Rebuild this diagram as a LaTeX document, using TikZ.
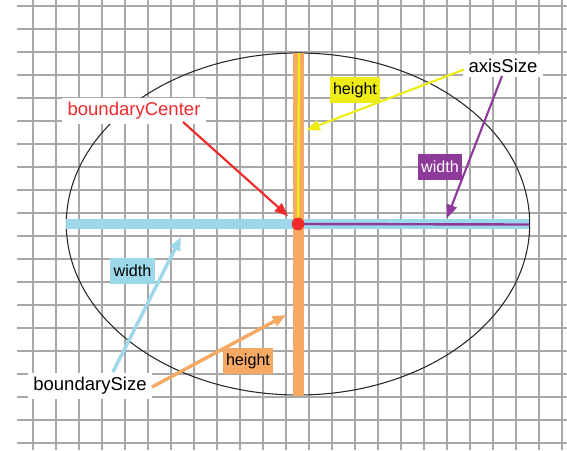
\documentclass[tikz,border=0pt]{standalone}
\usepackage{fontspec}
\setmainfont{Liberation Sans}
\usetikzlibrary{arrows.meta}
\definecolor{gridgray}{HTML}{A8A8A8}
\definecolor{sizeblue}{HTML}{9DD7EA}
\definecolor{sizeorange}{HTML}{F5A964}
\definecolor{axisyellow}{HTML}{EFEC14}
\definecolor{axispurple}{HTML}{8E3A9A}
\definecolor{centerred}{HTML}{EE2A2A}
\tikzset{
  gridln/.style  = {draw=gridgray,line width=1.1pt},
  lbl/.style     = {fill=white,inner xsep=4pt,inner ysep=3.5pt,
                     font=\fontsize{13.9}{16}\selectfont},
  keybox/.style  = {inner xsep=2.5pt,inner ysep=2pt,minimum height=19.5pt,
                     font=\fontsize{12.1}{14}\selectfont},
  ptr/.style     = {-{Triangle[length=10pt,width=8pt]},line width=2pt},
}

\begin{document}
\begin{tikzpicture}[x=0.75pt,y=-0.75pt]
  \useasboundingbox (0,0) rectangle (567,450);

  % Background grid
  \foreach \i in {0,...,23}
    \draw[gridln] (33+23*\i,0) -- (33+23*\i,450);
  \foreach \j in {0,...,19}
    \draw[gridln] (17,6+23*\j) -- (567,6+23*\j);

  % Boundary ellipse with its size and axis bars
  \coordinate (c) at (298,224);
  \draw[black!85,line width=0.8pt] (c) ellipse [x radius=231.7, y radius=171];
  \draw[sizeblue,line width=7pt] (66,224) -- (529.3,224);
  \draw[sizeorange,line width=8pt] (298.5,53) -- (298.5,395.5);
  \draw[axisyellow,line width=1.8pt] (299,53) -- (c);
  \draw[axispurple,line width=1.8pt] (c) -- (529.3,224.5);
  \fill[centerred] (c) circle [radius=6.3];

  % Labels
  \node[lbl,text=centerred] (bc) at (134,111) {boundaryCenter};
  \node[lbl] (as) at (503,65.5) {axisSize};
  \node[lbl] (bs) at (90,386) {boundarySize};

  \node[keybox,fill=axisyellow] (ah) at (355,90) {height};
  \node[keybox,fill=axispurple,text=white] (aw) at (440,167) {width};
  \node[keybox,fill=sizeblue] (bw) at (132.5,270.5) {width};
  \node[keybox,fill=sizeorange] (bh) at (248,361) {height};

  % Arrow ends
  \coordinate (bc-out) at (183,122);
  \coordinate (bc-in)  at (288,216);
  \coordinate (as-out1) at (464,69.5);
  \coordinate (as-in1)  at (306.5,130);
  \coordinate (as-out2) at (502,76);
  \coordinate (as-in2)  at (447,218);
  \coordinate (bs-out1) at (113,372);
  \coordinate (bs-in1)  at (181,237);
  \coordinate (bs-out2) at (152,387);
  \coordinate (bs-in2)  at (286,315);

  % Pointers
  \draw[ptr,centerred,line width=1.6pt] (bc-out) -- (bc-in);
  \draw[ptr,axisyellow,line width=1.6pt] (as-out1) -- (as-in1);
  \draw[ptr,axispurple,line width=1.6pt] (as-out2) -- (as-in2);
  \draw[ptr,sizeblue,line width=2.6pt] (bs-out1) -- (bs-in1);
  \draw[ptr,sizeorange,line width=2.6pt] (bs-out2) -- (bs-in2);
\end{tikzpicture}
\end{document}
